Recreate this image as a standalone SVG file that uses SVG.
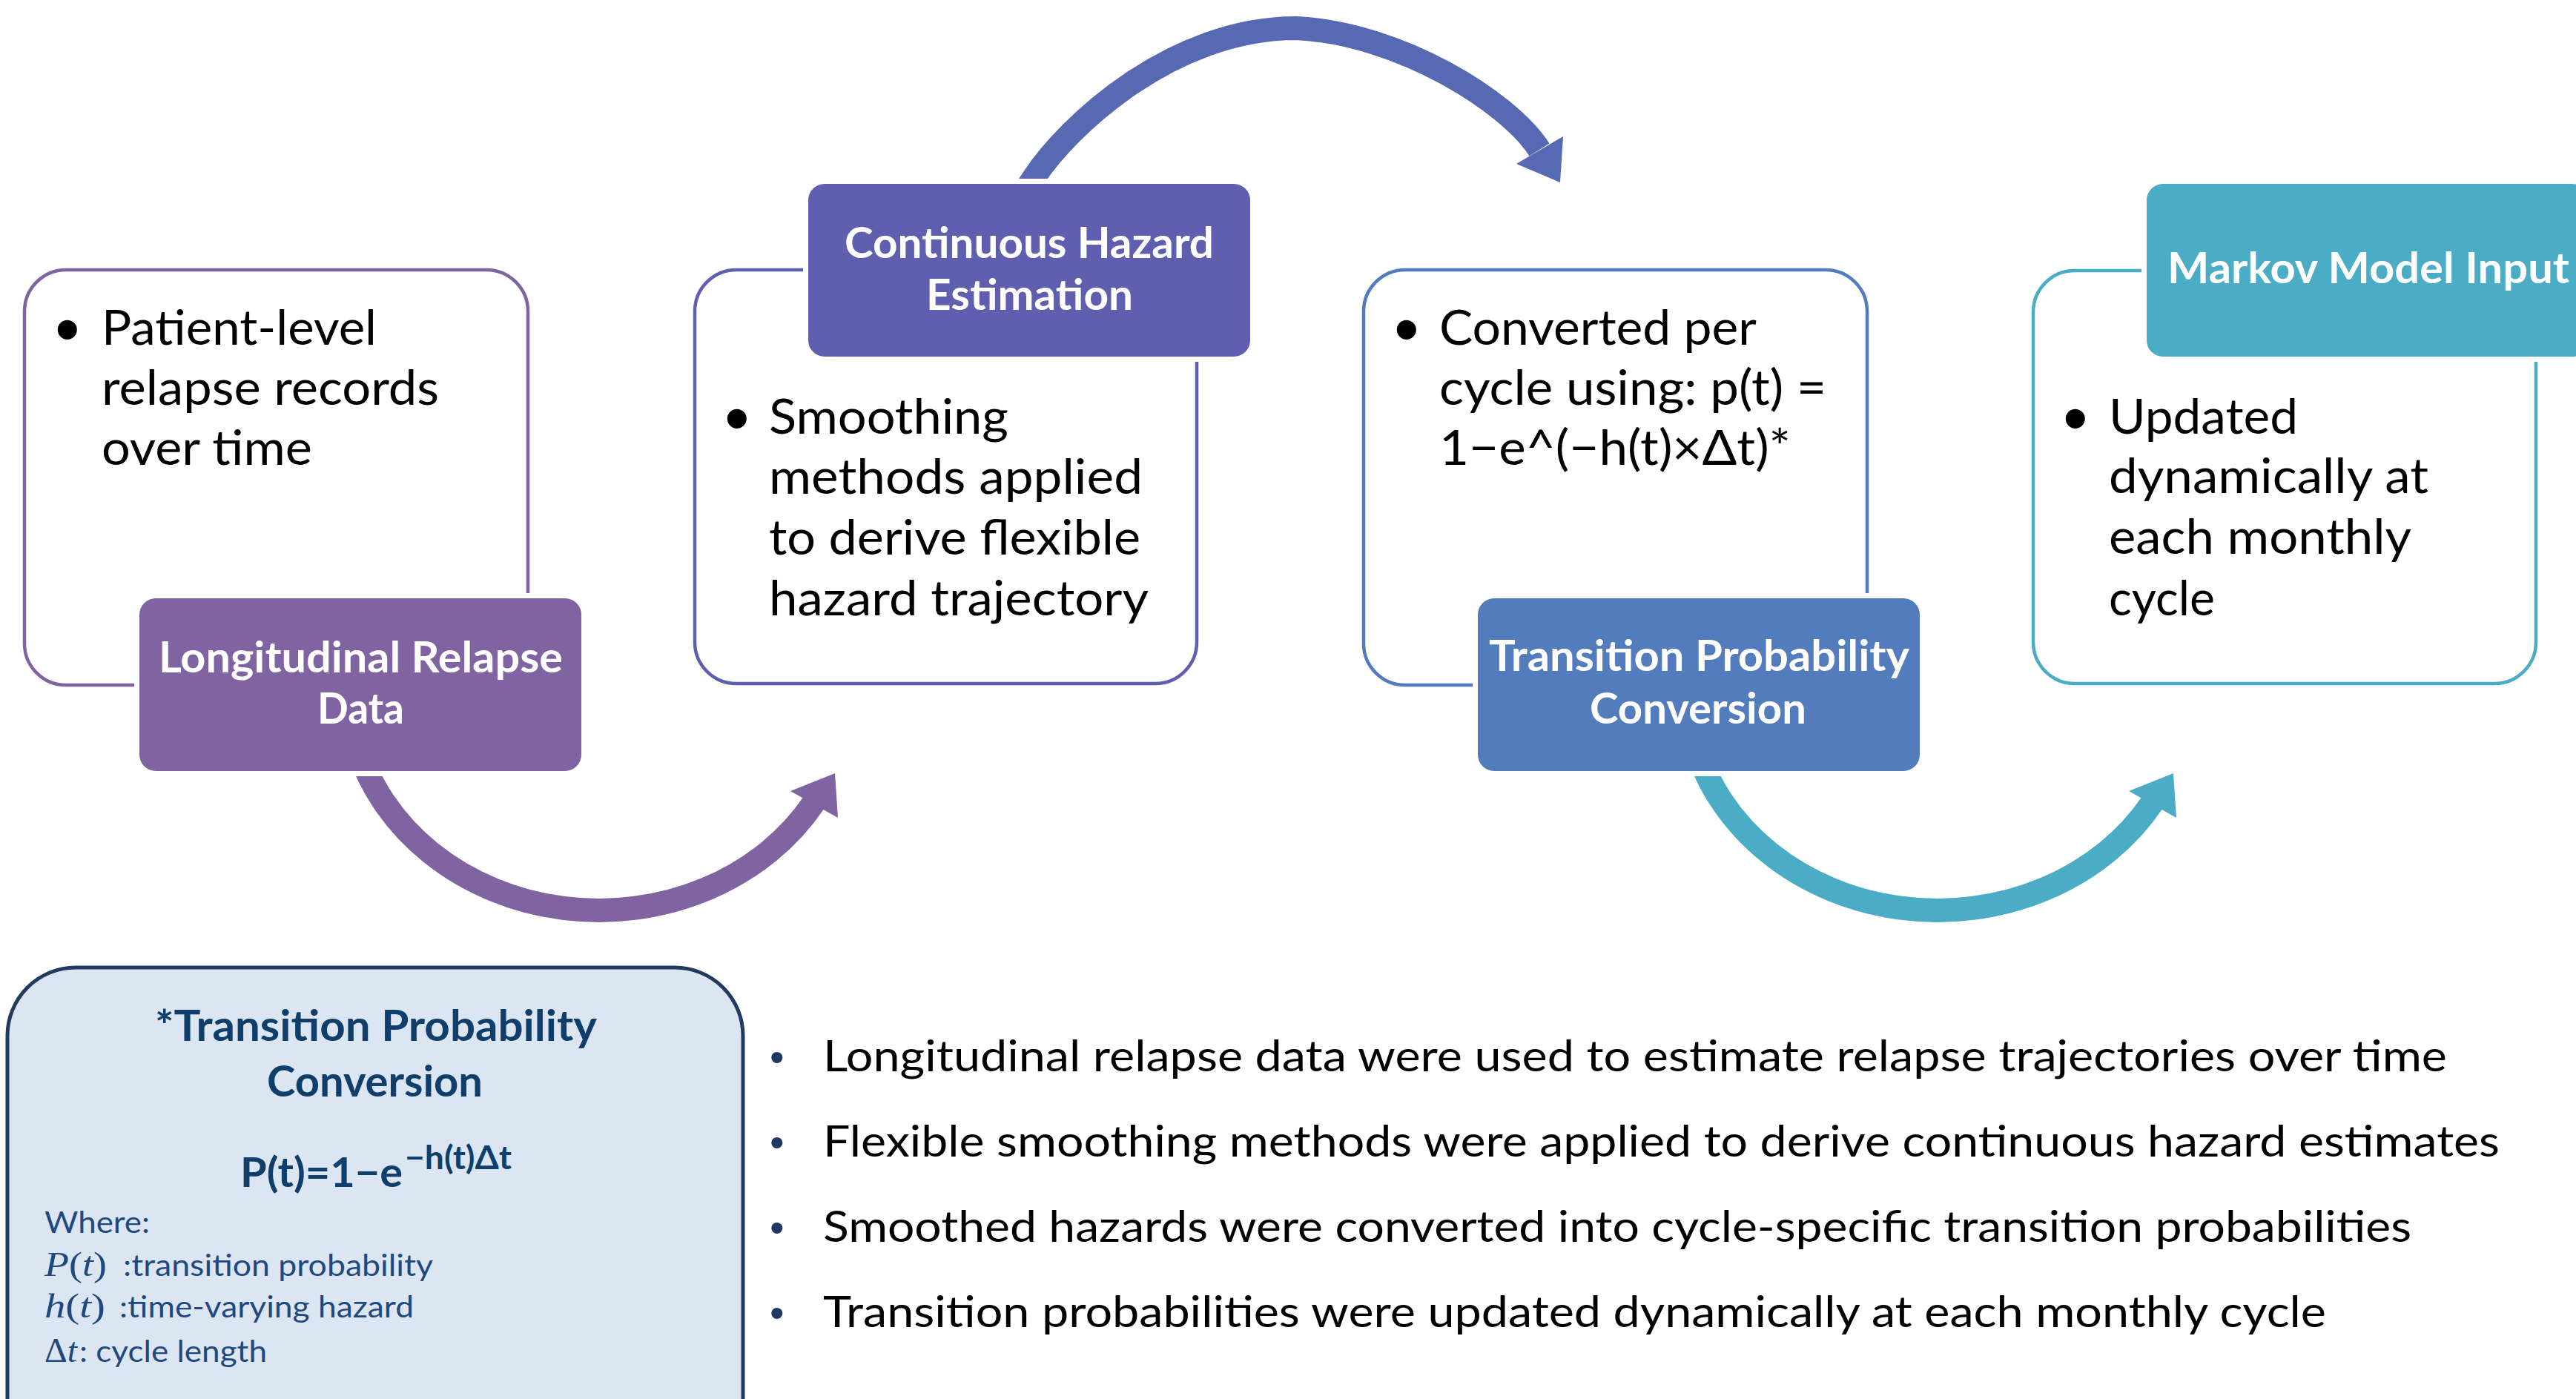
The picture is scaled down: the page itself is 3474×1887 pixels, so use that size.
<svg xmlns="http://www.w3.org/2000/svg" width="3474" height="1887" viewBox="0 0 3474 1887">
<style>
.body{font-family:Lato,"Liberation Sans",sans-serif;font-size:65px;fill:#000}
.lbl{font-family:Lato,"Liberation Sans",sans-serif;font-size:57px;font-weight:700;fill:#fff}
.bul{font-family:"Liberation Sans",Arial,sans-serif;font-size:96px;fill:#000}
.out{fill:#fff;stroke-width:4.5}
.back{fill:#fff}
.list{font-family:Lato,"Liberation Sans",sans-serif;font-size:58px;fill:#000}
.lbul{font-family:"Liberation Sans",Arial,sans-serif;font-size:56px;fill:#1f3864}
.ftitle{font-family:Lato,"Liberation Sans",sans-serif;font-size:57px;font-weight:700;fill:#0e3e69}
.fbody{font-family:Lato,"Liberation Sans",sans-serif;font-size:40px;fill:#1f497d}
.fmath{font-family:"Liberation Serif","Times New Roman",serif;font-size:46px;fill:#1f497d}
.shaft{fill:none;stroke-width:32;stroke-linecap:butt}
</style>
<rect width="3474" height="1887" fill="#fff"/>

<g id="box-longitudinal">
<rect class="out" x="33" y="364" width="679" height="560" rx="56" stroke="#8064a2"/>
<text class="bul" x="74" y="477">•</text>
<text class="body" x="137" y="465" textLength="371" lengthAdjust="spacingAndGlyphs">Patient-level</text>
<text class="body" x="137" y="546" textLength="455" lengthAdjust="spacingAndGlyphs">relapse records</text>
<text class="body" x="137" y="627" textLength="284" lengthAdjust="spacingAndGlyphs">over time</text>
</g>
<g id="box-hazard">
<rect class="out" x="937" y="364" width="677" height="558" rx="56" stroke="#605eae"/>
<text class="bul" x="977" y="597">•</text>
<text class="body" x="1037" y="585" textLength="323" lengthAdjust="spacingAndGlyphs">Smoothing</text>
<text class="body" x="1037" y="666" textLength="504" lengthAdjust="spacingAndGlyphs">methods applied</text>
<text class="body" x="1037" y="748" textLength="501" lengthAdjust="spacingAndGlyphs">to derive flexible</text>
<text class="body" x="1037" y="830" textLength="512" lengthAdjust="spacingAndGlyphs">hazard trajectory</text>
</g>
<g id="box-transition">
<rect class="out" x="1839" y="364" width="679" height="560" rx="56" stroke="#537cbd"/>
<text class="bul" x="1880" y="477">•</text>
<text class="body" x="1941" y="465" textLength="428" lengthAdjust="spacingAndGlyphs">Converted per</text>
<text class="body" x="1941" y="546" textLength="522" lengthAdjust="spacingAndGlyphs">cycle using: p(t) =</text>
<text class="body" x="1941" y="627" textLength="474" lengthAdjust="spacingAndGlyphs">1−e^(−h(t)×Δt)*</text>
</g>
<g id="box-markov">
<rect class="out" x="2742" y="365" width="678" height="557" rx="56" stroke="#4bacc6"/>
<text class="bul" x="2782" y="597">•</text>
<text class="body" x="2844" y="585" textLength="255" lengthAdjust="spacingAndGlyphs">Updated</text>
<text class="body" x="2844" y="665" textLength="431" lengthAdjust="spacingAndGlyphs">dynamically at</text>
<text class="body" x="2844" y="747" textLength="408" lengthAdjust="spacingAndGlyphs">each monthly</text>
<text class="body" x="2844" y="830" textLength="143" lengthAdjust="spacingAndGlyphs">cycle</text>
</g>

<g id="connectors">
<path class="shaft" stroke="#8064a2" d="M 480 1000.5 A 338 300 0 0 0 1098 1082"/>
<polygon fill="#8064a2" points="1066,1067 1126,1043 1130,1103"/>
<path class="shaft" stroke="#5869b4" d="M 1378 264 L 1394 240 C 1440 170 1580 38 1748 38 C 1890 45 2036 139 2076 202"/>
<polygon fill="#5869b4" points="2045,221 2108,184 2104,246"/>
<path class="shaft" stroke="#4bacc6" d="M 2285 1000.5 A 338 300 0 0 0 2903 1082"/>
<polygon fill="#4bacc6" points="2871,1067 2931,1043 2935,1103"/>
</g>

<g id="label-longitudinal">
<rect class="back" x="181" y="800" width="610" height="247" rx="28"/>
<rect x="188" y="807" width="596" height="233" rx="22" fill="#8064a2"/>
<text class="lbl" x="214" y="907" textLength="545" lengthAdjust="spacingAndGlyphs">Longitudinal Relapse</text>
<text class="lbl" x="428" y="976" textLength="117" lengthAdjust="spacingAndGlyphs">Data</text>
</g>
<g id="label-hazard">
<rect class="back" x="1083" y="241" width="610" height="247" rx="28"/>
<rect x="1090" y="248" width="596" height="233" rx="22" fill="#605eae"/>
<text class="lbl" x="1139" y="348" textLength="498" lengthAdjust="spacingAndGlyphs">Continuous Hazard</text>
<text class="lbl" x="1249" y="418" textLength="279" lengthAdjust="spacingAndGlyphs">Estimation</text>
</g>
<g id="label-transition">
<rect class="back" x="1986" y="800" width="610" height="247" rx="28"/>
<rect x="1993" y="807" width="596" height="233" rx="22" fill="#537cbd"/>
<text class="lbl" x="2008" y="905" textLength="567" lengthAdjust="spacingAndGlyphs">Transition Probability</text>
<text class="lbl" x="2144" y="976" textLength="292" lengthAdjust="spacingAndGlyphs">Conversion</text>
</g>
<g id="label-markov">
<rect class="back" x="2888" y="241" width="610" height="247" rx="28"/>
<rect x="2895" y="248" width="596" height="233" rx="22" fill="#4bacc6"/>
<text class="lbl" x="2923" y="382" textLength="542" lengthAdjust="spacingAndGlyphs">Markov Model Input</text>
</g>

<g id="formula-box">
<rect x="10" y="1305" width="992" height="720" rx="92" fill="#dce6f2" stroke="#223a5e" stroke-width="5"/>
<text class="ftitle" x="209" y="1404" textLength="596" lengthAdjust="spacingAndGlyphs">*Transition Probability</text>
<text class="ftitle" x="360" y="1479" textLength="291" lengthAdjust="spacingAndGlyphs">Conversion</text>
<text class="ftitle" x="324" y="1601" style="font-size:56px" textLength="219" lengthAdjust="spacingAndGlyphs">P(t)=1−e</text>
<text class="ftitle" x="546" y="1577" style="font-size:43px" textLength="144" lengthAdjust="spacingAndGlyphs">−h(t)Δt</text>
<text class="fbody" x="60" y="1663" textLength="142" lengthAdjust="spacingAndGlyphs">Where:</text>
<text class="fmath" x="60" y="1721" textLength="84" lengthAdjust="spacingAndGlyphs"><tspan font-style="italic">P</tspan>(<tspan font-style="italic">t</tspan>)</text>
<text class="fbody" x="166" y="1721" textLength="418" lengthAdjust="spacingAndGlyphs">:transition probability</text>
<text class="fmath" x="60" y="1777" textLength="82" lengthAdjust="spacingAndGlyphs"><tspan font-style="italic">h</tspan>(<tspan font-style="italic">t</tspan>)</text>
<text class="fbody" x="161" y="1777" textLength="397" lengthAdjust="spacingAndGlyphs">:time-varying hazard</text>
<text class="fmath" x="60" y="1837" textLength="44" lengthAdjust="spacingAndGlyphs">Δ<tspan font-style="italic">t</tspan></text>
<text class="fbody" x="107" y="1837" textLength="253" lengthAdjust="spacingAndGlyphs">: cycle length</text>
</g>

<g id="summary-list">
<text class="lbul" x="1038" y="1445">•</text>
<text class="list" x="1110" y="1445" textLength="2190" lengthAdjust="spacingAndGlyphs">Longitudinal relapse data were used to estimate relapse trajectories over time</text>
<text class="lbul" x="1038" y="1560">•</text>
<text class="list" x="1110" y="1560" textLength="2261" lengthAdjust="spacingAndGlyphs">Flexible smoothing methods were applied to derive continuous hazard estimates</text>
<text class="lbul" x="1038" y="1675">•</text>
<text class="list" x="1110" y="1675" textLength="2142" lengthAdjust="spacingAndGlyphs">Smoothed hazards were converted into cycle-specific transition probabilities</text>
<text class="lbul" x="1038" y="1790">•</text>
<text class="list" x="1110" y="1790" textLength="2027" lengthAdjust="spacingAndGlyphs">Transition probabilities were updated dynamically at each monthly cycle</text>
</g>
</svg>
